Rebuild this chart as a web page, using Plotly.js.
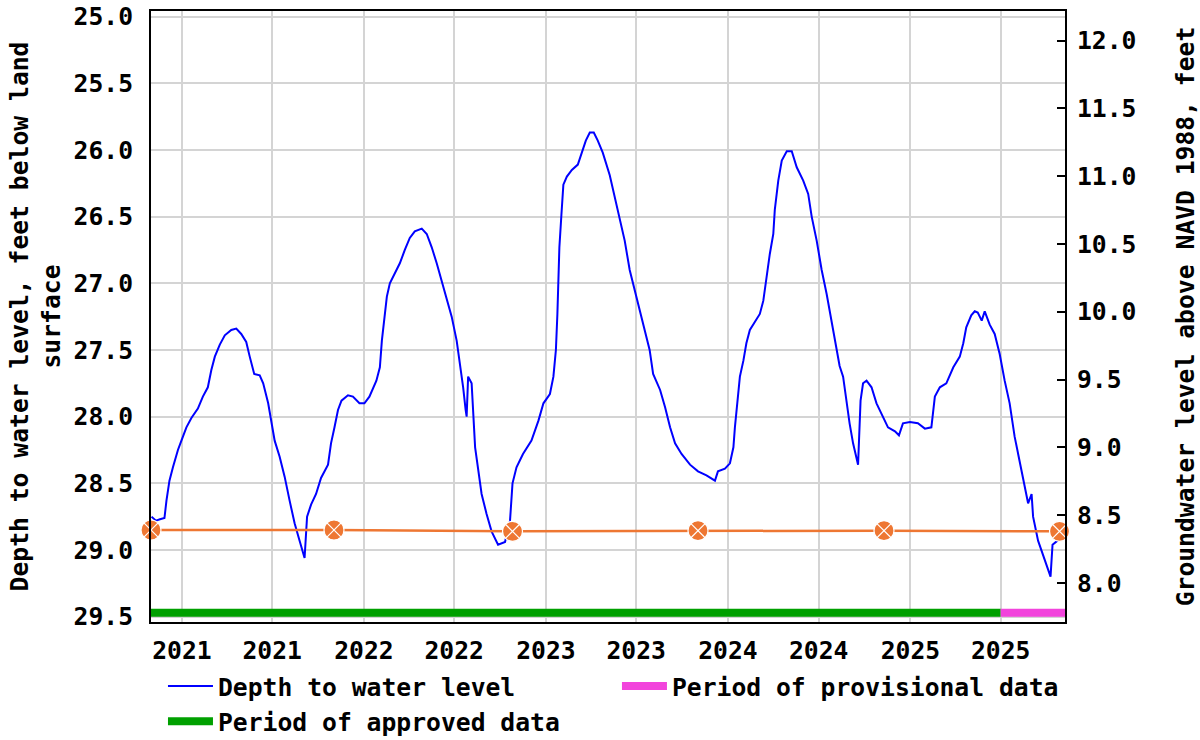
<!DOCTYPE html>
<html>
<head>
<meta charset="utf-8">
<script src="https://cdn.plot.ly/plotly-3.0.1.min.js"></script>
<style>html,body{margin:0;padding:0;background:#fff;}#chart{width:1200px;height:740px;}</style>
</head>
<body>
<div id="chart"></div>
<script>
// ---- Data ----
const tickDates = ['2021-01-01','2021-07-01','2022-01-01','2022-07-01','2023-01-01','2023-07-01','2024-01-01','2024-07-01','2025-01-01','2025-07-01'];
const tickLabels = ['2021','2021','2022','2022','2023','2023','2024','2024','2025','2025'];

const levelDates = [
'2020-11-01','2020-11-10','2020-11-18','2020-11-27','2020-12-01','2020-12-07','2020-12-14','2020-12-24','2020-12-31',
'2021-01-10','2021-01-20','2021-02-02','2021-02-12','2021-02-22','2021-03-01','2021-03-08','2021-03-18','2021-03-28',
'2021-04-10','2021-04-20','2021-04-30','2021-05-10','2021-05-17','2021-05-26','2021-06-06','2021-06-13','2021-06-23',
'2021-06-29','2021-07-06','2021-07-16','2021-07-26','2021-08-05','2021-08-15','2021-08-25','2021-08-30','2021-09-04',
'2021-09-09','2021-09-17','2021-09-27','2021-10-07','2021-10-21','2021-10-27','2021-11-03','2021-11-10','2021-11-17',
'2021-11-30','2021-12-10','2021-12-23','2022-01-02','2022-01-12','2022-01-26','2022-02-02','2022-02-06','2022-02-12',
'2022-02-16','2022-02-22','2022-03-04','2022-03-14','2022-03-24','2022-04-03','2022-04-13','2022-04-27','2022-05-07',
'2022-05-17','2022-05-27','2022-06-06','2022-06-16','2022-06-26','2022-07-06','2022-07-13','2022-07-19','2022-07-24',
'2022-07-26','2022-07-29','2022-08-05','2022-08-12','2022-08-18','2022-08-25','2022-09-04','2022-09-14','2022-09-27',
'2022-10-11','2022-10-21','2022-10-26','2022-11-03','2022-11-16','2022-12-03','2022-12-17','2022-12-27','2023-01-09',
'2023-01-16','2023-01-21','2023-01-24','2023-01-28','2023-02-01','2023-02-05','2023-02-12','2023-02-22','2023-03-06',
'2023-03-14','2023-03-22','2023-03-30','2023-04-07','2023-04-15','2023-04-25','2023-05-09','2023-05-19','2023-05-29',
'2023-06-08','2023-06-18','2023-06-28','2023-07-08','2023-07-18','2023-07-28','2023-08-04','2023-08-18','2023-08-28',
'2023-09-07','2023-09-17','2023-09-30','2023-10-17','2023-11-02','2023-11-19','2023-12-06','2023-12-12','2023-12-26',
'2024-01-05','2024-01-12','2024-01-15','2024-01-19','2024-01-25','2024-02-01','2024-02-07','2024-02-14','2024-02-24',
'2024-03-05','2024-03-12','2024-03-18','2024-03-25','2024-04-01','2024-04-04','2024-04-11','2024-04-18','2024-04-28',
'2024-05-08','2024-05-18','2024-05-31','2024-06-10','2024-06-17','2024-06-27','2024-07-07','2024-07-17','2024-07-27',
'2024-08-06','2024-08-12','2024-08-19','2024-08-26','2024-09-01','2024-09-08','2024-09-18','2024-09-23','2024-09-28',
'2024-10-05','2024-10-15','2024-10-25','2024-11-04','2024-11-17','2024-12-01','2024-12-09','2024-12-17','2024-12-31',
'2025-01-16','2025-01-30','2025-02-12','2025-02-19','2025-03-01','2025-03-14','2025-03-28','2025-04-10','2025-04-17',
'2025-04-23','2025-05-03','2025-05-10','2025-05-16','2025-05-24','2025-05-30','2025-06-09','2025-06-19','2025-06-29',
'2025-07-09','2025-07-19','2025-07-29','2025-08-08','2025-08-18','2025-08-25','2025-09-01','2025-09-04','2025-09-14',
'2025-09-27','2025-10-09','2025-10-13','2025-10-23','2025-11-02'
];
const levelDepths = [
28.75,28.78,28.77,28.76,28.63,28.48,28.38,28.25,28.18,
28.08,28.01,27.94,27.85,27.78,27.65,27.55,27.46,27.39,
27.35,27.34,27.38,27.44,27.55,27.68,27.69,27.75,27.90,
28.03,28.18,28.30,28.45,28.63,28.80,28.93,29.00,29.06,
28.75,28.66,28.58,28.46,28.36,28.20,28.08,27.95,27.88,
27.84,27.85,27.90,27.90,27.85,27.73,27.63,27.43,27.20,
27.10,27.00,26.93,26.85,26.75,26.66,26.61,26.59,26.63,
26.73,26.85,26.98,27.10,27.25,27.43,27.60,27.78,27.95,
28.00,27.70,27.75,28.23,28.40,28.58,28.73,28.86,28.96,
28.94,28.78,28.50,28.38,28.28,28.18,28.03,27.90,27.83,
27.70,27.50,27.23,26.73,26.49,26.26,26.20,26.15,26.11,
26.02,25.93,25.87,25.87,25.93,26.02,26.19,26.35,26.50,
26.68,26.90,27.05,27.20,27.35,27.50,27.68,27.80,27.93,
28.08,28.20,28.28,28.36,28.41,28.44,28.48,28.41,28.39,
28.35,28.23,28.08,27.93,27.70,27.58,27.45,27.35,27.29,
27.23,27.13,26.95,26.78,26.63,26.45,26.23,26.08,26.01,
26.01,26.13,26.23,26.33,26.50,26.68,26.90,27.08,27.28,
27.48,27.62,27.70,27.90,28.05,28.20,28.36,27.88,27.75,
27.73,27.78,27.90,27.98,28.08,28.11,28.14,28.05,28.04,
28.05,28.09,28.08,27.85,27.78,27.75,27.63,27.55,27.45,
27.33,27.24,27.21,27.22,27.28,27.21,27.31,27.38,27.53,
27.73,27.90,28.15,28.33,28.50,28.65,28.58,28.75,28.93,
29.08,29.20,28.96,28.93,28.91
];

const refDates = ['2020-10-31','2021-11-02','2022-10-26','2023-11-02','2024-11-09','2025-10-27'];
const refDepths = [28.85,28.85,28.86,28.855,28.855,28.86];

const approvedDates = ['2020-10-31','2025-07-01'];
const provisionalDates = ['2025-07-01','2025-11-07'];
const periodDepths = [29.47,29.47];

// ---- Styling ----
const FONT = {family:'"DejaVu Sans Mono", monospace', size:24.7, color:'#000', weight:'bold'};
const GRID = '#d4d4d4';

const traces = [
  {x:approvedDates, y:periodDepths, mode:'lines', name:'Period of approved data',
   line:{color:'#00a000', width:8}, legend:'legend', legendrank:2, hoverinfo:'skip'},
  {x:provisionalDates, y:periodDepths, mode:'lines', name:'Period of provisional data',
   line:{color:'#f244dc', width:8}, legend:'legend2', hoverinfo:'skip'},
  {x:levelDates, y:levelDepths, mode:'lines', name:'Depth to water level',
   line:{color:'#0000ff', width:2}, legend:'legend', legendrank:1},
  {x:refDates, y:refDepths, mode:'lines+markers', showlegend:false, cliponaxis:false,
   line:{color:'#ee7733', width:2.5},
   marker:{symbol:'circle-x', size:20, color:'#ee7733', line:{color:'#ffffff', width:1.2}}},
  // empty trace so that the right-hand elevation axis is drawn
  {x:[], y:[], yaxis:'y2', mode:'lines', showlegend:false, hoverinfo:'skip'}
];

const legendCommon = {orientation:'v', xanchor:'left', yanchor:'top', xref:'paper', yref:'container',
  font:FONT, bgcolor:'rgba(0,0,0,0)', borderwidth:0, itemwidth:45, tracegroupgap:0, traceorder:'normal'};

const layout = {
  width:1200, height:740,
  margin:{l:151, r:135, t:11, b:118, pad:0},
  paper_bgcolor:'#fff', plot_bgcolor:'#fff',
  font:FONT,
  showlegend:true,
  xaxis:{type:'date', range:['2020-10-31','2025-11-07'],
    tickmode:'array', tickvals:tickDates, ticktext:tickLabels,
    showgrid:true, gridcolor:GRID, gridwidth:2, zeroline:false,
    showline:true, mirror:true, linecolor:'#000', linewidth:2,
    ticks:'', tickfont:FONT, ticklabelstandoff:5},
  yaxis:{range:[29.54,24.958], tick0:25, dtick:0.5, tickformat:'.1f',
    showgrid:true, gridcolor:GRID, gridwidth:2, zeroline:false,
    showline:true, mirror:true, linecolor:'#000', linewidth:2,
    ticks:'', tickfont:FONT, ticklabelstandoff:11,
    title:{text:'Depth to water level, feet below land<br>surface', font:FONT, standoff:6}},
  yaxis2:{overlaying:'y', side:'right', anchor:'x', range:[7.712,12.219], tick0:8, dtick:0.5, tickformat:'.1f',
    showgrid:false, zeroline:false, showline:false,
    ticks:'inside', ticklen:8, tickwidth:2, tickcolor:'#000', tickfont:FONT, ticklabelstandoff:11,
    title:{text:'Groundwater level above NAVD 1988, feet', font:FONT, standoff:42}},
  legend:Object.assign({x:0.0131, y:0.1034}, legendCommon),
  legend2:Object.assign({x:0.5098, y:0.1034}, legendCommon)
};

Plotly.newPlot('chart', traces, layout, {staticPlot:true, displayModeBar:false});
</script>
</body>
</html>
